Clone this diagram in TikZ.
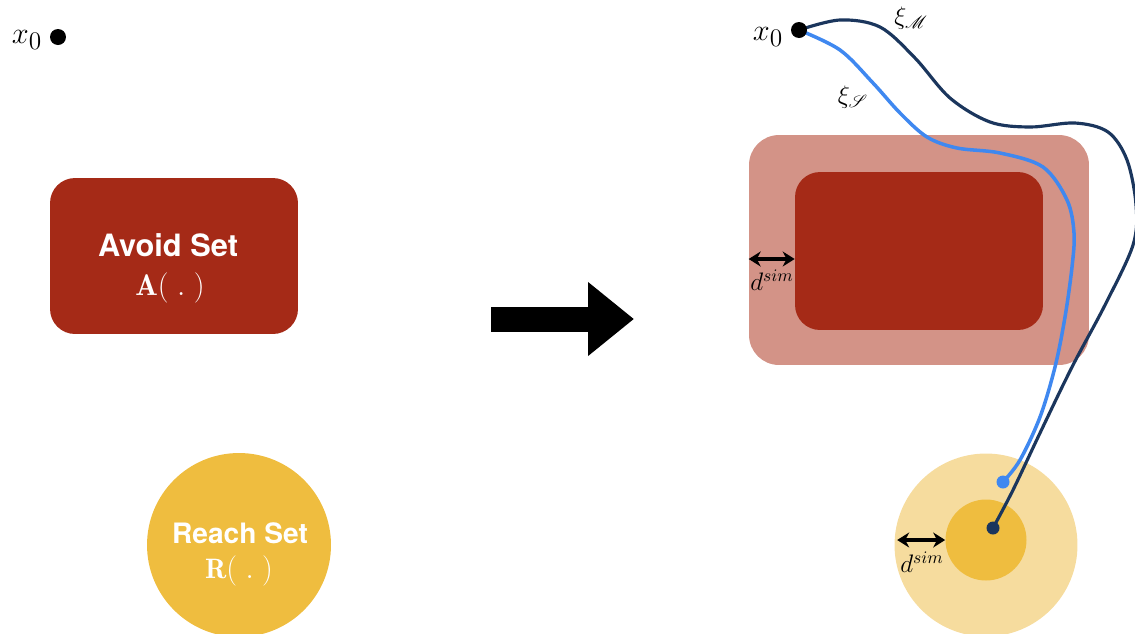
\documentclass[tikz,border=0pt]{standalone}
\usepackage{amsmath}
\usepackage{mathrsfs}
\usepackage{fontspec}
\newfontfamily\setfont{TeX Gyre Heros}
\usetikzlibrary{arrows.meta,positioning}
\definecolor{avoidred}{RGB}{165,42,23}
\definecolor{avoidpale}{RGB}{211,147,135}
\definecolor{reachgold}{RGB}{239,189,63}
\definecolor{reachpale}{RGB}{246,220,158}
\definecolor{trajnavy}{RGB}{27,54,93}
\definecolor{trajblue}{RGB}{63,136,240}

\begin{document}
\begin{tikzpicture}[x=0.02cm,y=-0.02cm,
    dot/.style={circle,fill=black,inner sep=0pt,minimum size=0.32cm},
    enddot/.style={circle,inner sep=0pt,minimum size=0.26cm},
    avoidbox/.style={rectangle,rounded corners=0.5cm,inner sep=0pt},
    reachdisc/.style={circle,inner sep=0pt},
    setname/.style={text=white,font=\setfont\bfseries\fontsize{16}{19}\selectfont},
    setfn/.style={text=white,font=\fontsize{16}{19}\selectfont},
    traj/.style={line width=1.8pt,line cap=round},
    gap/.style={{Stealth[length=0.24cm,width=0.3cm]}-{Stealth[length=0.24cm,width=0.3cm]},line width=1.8pt},
    lbl/.style={font=\fontsize{14}{16}\selectfont}]
  % page frame, the outer disc and one trajectory run off it
  \clip (0,0) rectangle (1135,633);

  % left: the sets as given
  \node[dot] (x0l) at (58,37) {};
  \node[font=\fontsize{19}{22}\selectfont] (x0ltxt) at (27,40) {$x_0$};
  \node[avoidbox,fill=avoidred,minimum width=4.96cm,minimum height=3.12cm] (avoidL) at (174,256) {};
  \node[setname,font=\setfont\bfseries\fontsize{17.5}{20}\selectfont] (avoidtxt) at (168,245) {Avoid Set};
  \node[setfn,font=\fontsize{17}{20}\selectfont] (avoidfn) at (170,288) {$\mathbf{A}(\;.\;)$};
  \node[reachdisc,fill=reachgold,minimum size=3.68cm] (reachL) at (239,545) {};
  \node[setname] (reachtxt) at (240,533) {Reach Set};
  \node[setfn] (reachfn) at (239,571) {$\mathbf{R}(\;.\;)$};

  % the big arrow
  \coordinate (arrL) at (491,319);
  \coordinate (arrR) at (634,319);
  \draw[line width=0.5cm,-{Triangle[length=0.92cm,width=1.42cm]}] (arrL) -- (arrR);

  % right: sets grown by the margin
  \node[avoidbox,fill=avoidpale,rounded corners=0.6cm,minimum width=6.8cm,minimum height=4.6cm] (buffer) at (919,250) {};
  \node[avoidbox,fill=avoidred,minimum width=4.96cm,minimum height=3.16cm] (avoidR) at (919,251) {};
  \node[reachdisc,fill=reachpale,minimum size=3.66cm] (reachbuf) at (986,545) {};
  \node[reachdisc,fill=reachgold,minimum size=1.62cm] (reachR) at (986,540) {};

  % margin arrows
  \coordinate (gaprow) at (0,259);
  \draw[gap] (buffer.west |- gaprow) -- (avoidR.west |- gaprow);
  \node[lbl] (gapA) at (772,280) {$d^{sim}$};
  \draw[gap] ([xshift=0.06cm]reachbuf.west |- reachR.west) -- (reachR.west);
  \node[lbl] (gapR) at (922,562) {$d^{sim}$};

  % trajectories
  \coordinate (startR) at (799,30);
  \coordinate (stopS) at (1003,482);
  \coordinate (stopM) at (993,528);
  \draw[traj,trajnavy] plot[smooth,tension=0.55] coordinates {(startR) (840,20) (880,27) (915,58)
    (950,98) (990,122) (1030,127) (1075,123) (1108,132) (1127,160) (1136,205) (1133,245)
    (1105,305) (1072,367) (1040,433) (1013,490) (stopM)};
  \draw[traj,trajblue,line width=2pt] plot[smooth,tension=0.55] coordinates {(startR) (840,50) (873,83)
    (900,113) (927,137) (957,148) (1000,153) (1043,167) (1067,200) (1074,233) (1072,267)
    (1065,317) (1055,367) (1040,417) (1020,460) (stopS)};
  \node[dot] (x0r) at (startR) {};
  \node[font=\fontsize{19}{22}\selectfont] (x0rtxt) at (768,37) {$x_0$};
  \node[enddot,fill=trajblue] (endS) at (stopS) {};
  \node[enddot,fill=trajnavy] (endM) at (stopM) {};
  \node[lbl] (xiM) at (911,18) {$\xi_{\mathscr{M}}$};
  \node[lbl] (xiS) at (853,97) {$\xi_{\mathscr{S}}$};
\end{tikzpicture}
\end{document}
